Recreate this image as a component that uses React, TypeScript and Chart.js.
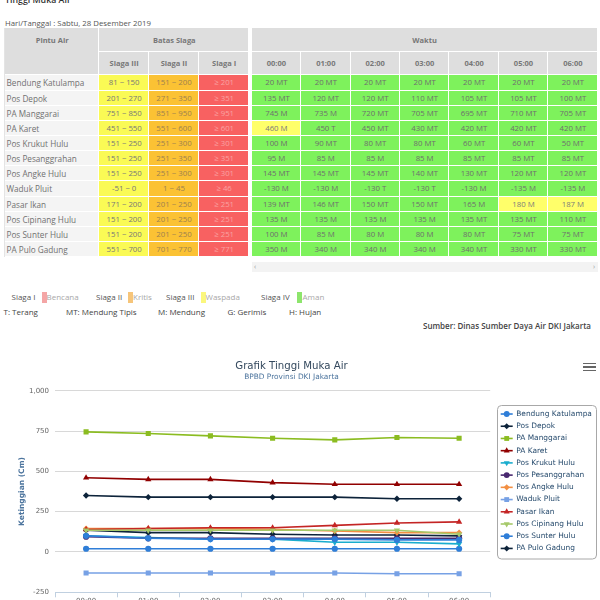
import React, { useEffect, useRef } from "react";
import { Chart, registerables } from "chart.js";
import { drawPoint } from "chart.js/helpers";

Chart.register(...registerables);

// ---------- DATA ----------
const timeLabels = ["00:00", "01:00", "02:00", "03:00", "04:00", "05:00", "06:00"];

const stationNames = [
  "Bendung Katulampa",
  "Pos Depok",
  "PA Manggarai",
  "PA Karet",
  "Pos Krukut Hulu",
  "Pos Pesanggrahan",
  "Pos Angke Hulu",
  "Waduk Pluit",
  "Pasar Ikan",
  "Pos Cipinang Hulu",
  "Pos Sunter Hulu",
  "PA Pulo Gadung",
];

const siaga3Range = ["81 ~ 150", "201 ~ 270", "751 ~ 850", "451 ~ 550", "151 ~ 250", "151 ~ 250", "151 ~ 250", "-51 ~ 0", "171 ~ 200", "151 ~ 200", "151 ~ 200", "551 ~ 700"];
const siaga2Range = ["151 ~ 200", "271 ~ 350", "851 ~ 950", "551 ~ 600", "251 ~ 300", "251 ~ 350", "251 ~ 300", "1 ~ 45", "201 ~ 250", "201 ~ 250", "201 ~ 250", "701 ~ 770"];
const siaga1Range = ["≥ 201", "≥ 351", "≥ 951", "≥ 601", "≥ 301", "≥ 351", "≥ 301", "≥ 46", "≥ 251", "≥ 251", "≥ 251", "≥ 771"];

const siaga3Low = [81, 201, 751, 451, 151, 151, 151, -51, 171, 151, 151, 551];
const siaga2Low = [151, 271, 851, 551, 251, 251, 251, 1, 201, 201, 201, 701];
const siaga1Low = [201, 351, 951, 601, 301, 351, 301, 46, 251, 251, 251, 771];

const bendungKatulampa = [20, 20, 20, 20, 20, 20, 20];
const posDepok = [135, 120, 120, 110, 105, 105, 100];
const paManggarai = [745, 735, 720, 705, 695, 710, 705];
const paKaret = [460, 450, 450, 430, 420, 420, 420];
const posKrukutHulu = [100, 90, 80, 80, 60, 60, 50];
const posPesanggrahan = [95, 85, 85, 85, 85, 85, 85];
const posAngkeHulu = [145, 145, 145, 140, 130, 120, 120];
const wadukPluit = [-130, -130, -130, -130, -130, -135, -135];
const pasarIkan = [139, 146, 150, 150, 165, 180, 187];
const posCipinangHulu = [135, 135, 135, 135, 135, 135, 110];
const posSunterHulu = [100, 85, 80, 80, 80, 75, 75];
const paPuloGadung = [350, 340, 340, 340, 340, 330, 330];

const wBendungKatulampa = ["MT", "MT", "MT", "MT", "MT", "MT", "MT"];
const wPosDepok = ["MT", "MT", "MT", "MT", "MT", "MT", "MT"];
const wPaManggarai = ["M", "M", "MT", "MT", "MT", "MT", "MT"];
const wPaKaret = ["M", "T", "MT", "MT", "MT", "MT", "MT"];
const wPosKrukutHulu = ["M", "MT", "MT", "MT", "MT", "MT", "MT"];
const wPosPesanggrahan = ["M", "M", "M", "M", "MT", "MT", "MT"];
const wPosAngkeHulu = ["MT", "MT", "MT", "MT", "MT", "MT", "MT"];
const wWadukPluit = ["M", "M", "T", "T", "M", "M", "M"];
const wPasarIkan = ["MT", "MT", "MT", "MT", "M", "M", "M"];
const wPosCipinangHulu = ["M", "M", "M", "M", "MT", "MT", "MT"];
const wPosSunterHulu = ["M", "M", "M", "M", "MT", "MT", "MT"];
const wPaPuloGadung = ["M", "M", "M", "M", "MT", "MT", "MT"];

const seriesValues = [
  bendungKatulampa, posDepok, paManggarai, paKaret, posKrukutHulu, posPesanggrahan,
  posAngkeHulu, wadukPluit, pasarIkan, posCipinangHulu, posSunterHulu, paPuloGadung,
];
const seriesWeather = [
  wBendungKatulampa, wPosDepok, wPaManggarai, wPaKaret, wPosKrukutHulu, wPosPesanggrahan,
  wPosAngkeHulu, wWadukPluit, wPasarIkan, wPosCipinangHulu, wPosSunterHulu, wPaPuloGadung,
];

const seriesColors = ["#2f7ed8", "#0d233a", "#8bbc21", "#910000", "#1aadce", "#492970", "#f28f43", "#77a1e5", "#c42525", "#a6c96a", "#2f7ed8", "#0d233a"];
const markerStyles = ["circle", "rectRot", "rect", "triangle", "triangleDown", "circle", "rectRot", "rect", "triangle", "triangleDown", "circle", "rectRot"];

const yTicks = [-250, 0, 250, 500, 750, 1000];

// ---------- STYLE HELPERS ----------
const FONT = '"Open Sans", sans-serif';
const CHART_FONT = '"DejaVu Sans", sans-serif';

const markerRadius = (s: string) => (s === "rect" ? 3.6 : s === "circle" ? 3.1 : s === "rectRot" ? 3.2 : 3.6);
const markerShape = (s: string) => (s === "triangleDown" ? "triangle" : s);
const markerRot = (s: string) => (s === "triangleDown" ? 180 : 0);

const cellStatus = (row: number, v: number) => {
  if (v >= siaga1Low[row]) return { bg: "#f86161", fg: "#f9a3a3" };
  if (v >= siaga2Low[row]) return { bg: "#fbc234", fg: "#9b8150" };
  if (v >= siaga3Low[row]) return { bg: "#ffff6a", fg: "#7a7a7a" };
  return { bg: "#7ef25c", fg: "#6e6e6e" };
};

const legendPlugin = {
  id: "hcLegend",
  afterDraw(chart: any) {
    const ctx = chart.ctx;
    const ca = chart.chartArea;
    const left = ca.right + 7;
    const top = ca.top + 13.8;
    const w = 99;
    const h = 153.5;
    ctx.save();
    ctx.strokeStyle = "#a8a8a8";
    ctx.lineWidth = 1;
    ctx.beginPath();
    (ctx as any).roundRect(Math.round(left) + 0.5, Math.round(top) + 0.5, w, h, 4);
    ctx.stroke();
    chart.data.datasets.forEach((ds: any, i: number) => {
      const y = top + 9.5 + i * 12.22;
      const style = markerStyles[i];
      ctx.strokeStyle = ds.borderColor;
      ctx.lineWidth = 1.6;
      ctx.beginPath();
      ctx.moveTo(left + 3.5, y);
      ctx.lineTo(left + 15.5, y);
      ctx.stroke();
      ctx.fillStyle = ds.borderColor;
      drawPoint(ctx, { pointStyle: markerShape(style), rotation: markerRot(style), radius: markerRadius(style) * 0.95, borderWidth: 0 } as any, left + 9.5, y);
      ctx.fillStyle = "#274b6d";
      ctx.font = `7.45px ${CHART_FONT}`;
      ctx.textBaseline = "middle";
      ctx.textAlign = "left";
      ctx.fillText(ds.label, left + 19, y);
    });
    ctx.restore();
  },
};

// ---------- COMPONENTS ----------
function ChartBlock() {
  const ref = useRef<HTMLCanvasElement>(null);
  useEffect(() => {
    Chart.defaults.font.family = CHART_FONT;
    const datasets = stationNames.map((name, i) => ({
      label: name,
      data: seriesValues[i],
      borderColor: seriesColors[i],
      backgroundColor: seriesColors[i],
      pointBackgroundColor: seriesColors[i],
      pointBorderColor: seriesColors[i],
      pointBorderWidth: 0,
      borderWidth: 1.6,
      pointStyle: markerShape(markerStyles[i]),
      pointRotation: markerRot(markerStyles[i]),
      pointRadius: markerRadius(markerStyles[i]),
      tension: 0,
      fill: false,
      order: -i,
    }));
    const chart = new Chart(ref.current as HTMLCanvasElement, {
      type: "line",
      data: { labels: timeLabels, datasets },
      options: {
        animation: false,
        responsive: false,
        devicePixelRatio: 1,
        layout: { padding: { left: 0, right: 17, top: 0, bottom: 0 } },
        plugins: {
          legend: { display: false },
          tooltip: { enabled: false },
          title: {
            display: true,
            text: "Grafik Tinggi Muka Air",
            color: "#34495e",
            font: { family: CHART_FONT, size: 10.2, weight: "normal", lineHeight: 1.2 },
            padding: { top: 10, bottom: 0 },
          },
          subtitle: {
            display: true,
            text: "BPBD Provinsi DKI Jakarta",
            color: "#4d759e",
            font: { family: CHART_FONT, size: 7.4, weight: "normal", lineHeight: 1.2 },
            padding: { top: 0, bottom: 9.6 },
          },
        },
        scales: {
          x: {
            type: "category",
            offset: true,
            grid: { display: true, drawOnChartArea: false, drawTicks: true, tickLength: 5, color: "#C0D0E0", offset: true },
            border: { display: true, color: "#C0D0E0", width: 1 },
            ticks: { font: { size: 7 }, color: "#666", padding: 0, maxRotation: 0, autoSkip: false },
            afterFit: (s: any) => { s.height = 280 - 242.3; },
          },
          y: {
            min: yTicks[0],
            max: yTicks[yTicks.length - 1],
            afterBuildTicks: (s: any) => { s.ticks = yTicks.map((v) => ({ value: v })); },
            ticks: {
              font: { size: 7 },
              color: "#666",
              padding: 6,
              callback: (v: any) => Number(v).toLocaleString("en-US"),
            },
            grid: { color: "#d8d8d8", drawTicks: false, lineWidth: 1 },
            border: { display: false },
            title: {
              display: true,
              text: "Ketinggian (Cm)",
              color: "#4d759e",
              font: { family: CHART_FONT, size: 7.5, weight: "bold", lineHeight: 1.2 },
              padding: { top: 17.5, bottom: 0 },
            },
            afterFit: (s: any) => { s.width = 55; },
          },
          yRight: {
            position: "right",
            display: true,
            grid: { display: false },
            border: { display: false },
            ticks: { display: false },
            afterFit: (s: any) => { s.width = 600 - 17 - 490.2; },
          },
        },
      } as any,
      plugins: [legendPlugin],
    });
    return () => chart.destroy();
  }, []);
  return (
    <canvas
      ref={ref}
      width={600}
      height={280}
      style={{ position: "absolute", left: 0, top: 350, width: 600, height: 280, display: "block" }}
    />
  );
}

const ROW_H = 15.15;

function WaterTable() {
  const cells: React.ReactNode[] = [];
  const hdr = (key: string, text: string, col: string, row: string, extra: any = {}) =>
    cells.push(
      <div
        key={key}
        style={{
          gridColumn: col,
          gridRow: row,
          background: "#dedede",
          color: "#777",
          fontWeight: 700,
          fontSize: 7.5,
          textAlign: "center",
          boxShadow: "inset -1px -1px 0 #fff",
          ...extra,
        }}
      >
        {text}
      </div>
    );
  hdr("h-pintu", "Pintu Air", "1", "1 / 3", { lineHeight: "24px" });
  hdr("h-batas", "Batas Siaga", "2 / 5", "1", { lineHeight: "24px" });
  hdr("h-waktu", "Waktu", "6 / 13", "1", { lineHeight: "24px" });
  hdr("h-s3", "Siaga III", "2", "2", { lineHeight: "23.2px" });
  hdr("h-s2", "Siaga II", "3", "2", { lineHeight: "23.2px" });
  hdr("h-s1", "Siaga I", "4", "2", { lineHeight: "23.2px" });
  timeLabels.forEach((t, j) => hdr("h-t" + j, t, String(6 + j), "2", { lineHeight: "23.2px" }));
  cells.push(<div key="sep" style={{ gridColumn: "5", gridRow: "1 / 15", background: "#fff" }} />);

  const body = (key: string, text: string, col: number, row: number, bg: string, fg: string, align = "center", size = 7.8) =>
    cells.push(
      <div
        key={key}
        style={{
          gridColumn: String(col),
          gridRow: String(row),
          background: bg,
          color: fg,
          fontSize: size,
          lineHeight: ROW_H + "px",
          textAlign: align as any,
          paddingLeft: align === "left" ? 1.5 : 0,
          whiteSpace: "nowrap",
          overflow: "hidden",
          boxShadow: "inset -1px -1px 0 #fff",
        }}
      >
        {text}
      </div>
    );

  stationNames.forEach((name, i) => {
    const r = 3 + i;
    body("n" + i, name, 1, r, "#f4f4f4", "#707070", "left", 8.2);
    body("s3" + i, siaga3Range[i], 2, r, "#fafa55", "#777");
    body("s2" + i, siaga2Range[i], 3, r, "#fbc234", "#9b8150");
    body("s1" + i, siaga1Range[i], 4, r, "#f86161", "#f9a3a3");
    seriesValues[i].forEach((v, j) => {
      const st = cellStatus(i, v);
      body(`v${i}-${j}`, `${v} ${seriesWeather[i][j]}`, 6 + j, r, st.bg, st.fg);
    });
  });

  return (
    <div
      style={{
        position: "absolute",
        left: 5,
        top: 28.3,
        display: "grid",
        gridTemplateColumns: "94.3px 49.7px 50px 50.3px 2.4px repeat(7, 49.43px)",
        gridTemplateRows: `24px 23.2px repeat(12, ${ROW_H}px)`,
        fontFamily: FONT,
        borderLeft: "1px solid #e4e4e4",
        marginLeft: -1,
      }}
    >
      {cells}
    </div>
  );
}

const legendSiaga = [
  { label: "Siaga I", text: "Bencana", color: "#f4a6a6", x: 11.5, bx: 41.5, tx: 46.5 },
  { label: "Siaga II", text: "Kritis", color: "#f6c57a", x: 96, bx: 128, tx: 133 },
  { label: "Siaga III", text: "Waspada", color: "#fbf77d", x: 166, bx: 200.5, tx: 205.5 },
  { label: "Siaga IV", text: "Aman", color: "#8de56c", x: 261, bx: 297, tx: 302.5 },
];
const legendWeather = [
  { text: "T: Terang", x: 3.5 },
  { text: "MT: Mendung Tipis", x: 66 },
  { text: "M: Mendung", x: 158 },
  { text: "G: Gerimis", x: 227.5 },
  { text: "H: Hujan", x: 289 },
];

function InfoBlock() {
  const t = (key: string, text: string, x: number, y: number, color: string, size = 8, weight = 400) => (
    <div
      key={key}
      style={{
        position: "absolute",
        left: x,
        top: y - 6,
        lineHeight: "12px",
        fontSize: size,
        color,
        fontWeight: weight,
        whiteSpace: "nowrap",
        fontFamily: FONT,
      }}
    >
      {text}
    </div>
  );
  return (
    <>
      {legendSiaga.map((g, i) => (
        <React.Fragment key={"ls" + i}>
          {t("lsl" + i, g.label, g.x, 297, "#555")}
          <div style={{ position: "absolute", left: g.bx, top: 291.5, width: 5, height: 11, background: g.color }} />
          {t("lst" + i, g.text, g.tx, 297, "#a8a8a8")}
        </React.Fragment>
      ))}
      {legendWeather.map((w, i) => t("lw" + i, w.text, w.x, 311.5, "#444"))}
      <div
        style={{
          position: "absolute",
          right: 9,
          top: 320,
          lineHeight: "12px",
          fontSize: 8,
          color: "#444",
          fontWeight: 600,
          whiteSpace: "nowrap",
          fontFamily: FONT,
        }}
      >
        Sumber: Dinas Sumber Daya Air DKI Jakarta
      </div>
    </>
  );
}

export default function App() {
  return (
    <div
      style={{
        position: "fixed",
        left: 0,
        top: 0,
        width: 600,
        height: 600,
        overflow: "hidden",
        background: "#fff",
        fontFamily: FONT,
      }}
    >
      <div style={{ position: "absolute", left: 5, top: -6, fontSize: 8.8, fontWeight: 600, color: "#333", lineHeight: "12px", whiteSpace: "nowrap" }}>
        Tinggi Muka Air
      </div>
      <div style={{ position: "absolute", left: 5, top: 16.7, fontSize: 7.8, color: "#555", lineHeight: "12px", whiteSpace: "nowrap" }}>
        Hari/Tanggal : Sabtu, 28 Desember 2019
      </div>
      <WaterTable />
      <div style={{ position: "absolute", left: 252, top: 262, width: 346, height: 10, background: "#f3f3f3" }} />
      <div style={{ position: "absolute", left: 254, top: 261, fontSize: 7, color: "#999", lineHeight: "12px" }}>‹</div>
      <div style={{ position: "absolute", left: 593, top: 261, fontSize: 7, color: "#999", lineHeight: "12px" }}>›</div>
      <InfoBlock />
      <ChartBlock />
      <div style={{ position: "absolute", left: 583, top: 362.5 }}>
        {[0, 1, 2].map((k) => (
          <div key={k} style={{ position: "absolute", left: 0, top: k * 3.6, width: 13, height: 1.7, background: "#666" }} />
        ))}
      </div>
    </div>
  );
}
